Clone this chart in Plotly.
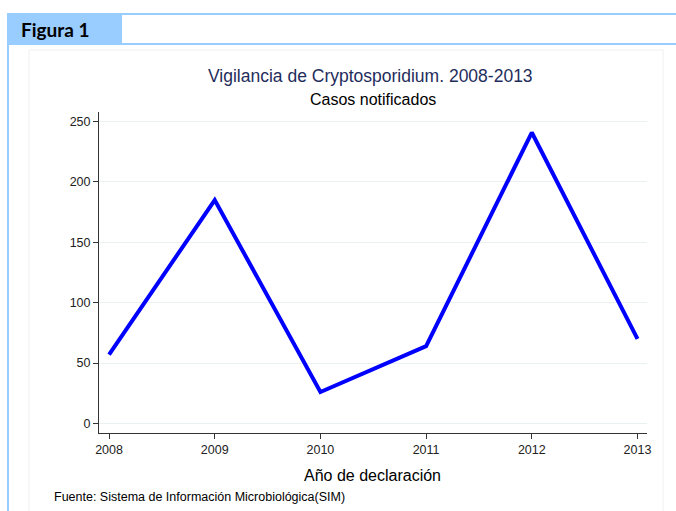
import plotly.graph_objects as go

# Datos
anios = [2008, 2009, 2010, 2011, 2012, 2013]
casos = [57, 185, 26, 64, 241, 70]
y_ticks = [0, 50, 100, 150, 200, 250]

titulo = "Vigilancia de Cryptosporidium. 2008-2013"
subtitulo = "Casos notificados"
x_titulo = "Año de declaración"
fuente = "Fuente: Sistema de Información Microbiológica(SIM)"
etiqueta = "Figura 1"

W, H = 676, 511
L, R, T, B = 99, 29, 112, 78
PW, PH = W - L - R, H - T - B

AZUL_CLARO = "#99CCFF"
FONT = "Liberation Sans, Arial, sans-serif"


def px(x):
    return (x - L) / PW


def py(y):
    return (H - B - y) / PH


fig = go.Figure()

fig.add_trace(go.Scatter(
    x=anios, y=casos,
    mode="lines",
    line=dict(color="#0000FF", width=4),
    hoverinfo="x+y",
))

shapes = [
    # marco interior gris
    dict(type="rect", xref="paper", yref="paper",
         x0=px(29), x1=px(663), y0=py(512), y1=py(50),
         line=dict(color="#F0F0F0", width=1), fillcolor="rgba(0,0,0,0)", layer="below"),
    # banda superior con la etiqueta
    dict(type="rect", xref="paper", yref="paper",
         x0=px(7), x1=px(122), y0=py(44), y1=py(13),
         line=dict(width=0), fillcolor=AZUL_CLARO, layer="below"),
    dict(type="line", xref="paper", yref="paper",
         x0=px(7), x1=px(676), y0=py(14), y1=py(14),
         line=dict(color=AZUL_CLARO, width=2)),
    dict(type="line", xref="paper", yref="paper",
         x0=px(7), x1=px(676), y0=py(44), y1=py(44),
         line=dict(color=AZUL_CLARO, width=2)),
    dict(type="line", xref="paper", yref="paper",
         x0=px(8), x1=px(8), y0=py(13), y1=py(511),
         line=dict(color=AZUL_CLARO, width=2)),
]

annotations = [
    dict(text=f"<b>{etiqueta}</b>", xref="paper", yref="paper",
         x=px(19), y=py(30), xanchor="left", yanchor="middle", showarrow=False,
         font=dict(family="Lato, Open Sans, sans-serif", size=19, color="#000000")),
    dict(text=titulo, xref="paper", yref="paper",
         x=px(370), y=py(76), xanchor="center", yanchor="middle", showarrow=False,
         font=dict(family=FONT, size=17.5, color="#1F2D5C")),
    dict(text=subtitulo, xref="paper", yref="paper",
         x=px(373), y=py(99), xanchor="center", yanchor="middle", showarrow=False,
         font=dict(family=FONT, size=16, color="#000000")),
    dict(text=x_titulo, xref="paper", yref="paper",
         x=px(372), y=py(475), xanchor="center", yanchor="middle", showarrow=False,
         font=dict(family=FONT, size=16, color="#000000")),
    dict(text=fuente, xref="paper", yref="paper",
         x=px(52), y=py(497), xanchor="left", yanchor="middle", showarrow=False,
         font=dict(family=FONT, size=12.5, color="#000000")),
]

fig.update_layout(
    width=W, height=H,
    margin=dict(l=L, r=R, t=T, b=B),
    paper_bgcolor="white",
    plot_bgcolor="white",
    showlegend=False,
    shapes=shapes,
    annotations=annotations,
    xaxis=dict(
        range=[2007.905, 2013.09],
        tickvals=anios,
        ticks="outside", ticklen=5, tickcolor="#333333",
        showline=True, linecolor="#333333", linewidth=1,
        showgrid=False, zeroline=False,
        tickfont=dict(family=FONT, size=12.5, color="#222222"),
    ),
    yaxis=dict(
        range=[-8, 258],
        tickvals=y_ticks,
        ticks="outside", ticklen=5, tickcolor="#333333",
        showline=True, linecolor="#333333", linewidth=1,
        showgrid=True, gridcolor="#EAF1F3", gridwidth=1,
        zeroline=False,
        tickfont=dict(family=FONT, size=12.5, color="#222222"),
    ),
)

# sin el margen del body para que la figura empiece en (0, 0)
fig.write_html(
    "out.html",
    config={"displayModeBar": False},
    post_script="document.body.style.margin='0';",
)
